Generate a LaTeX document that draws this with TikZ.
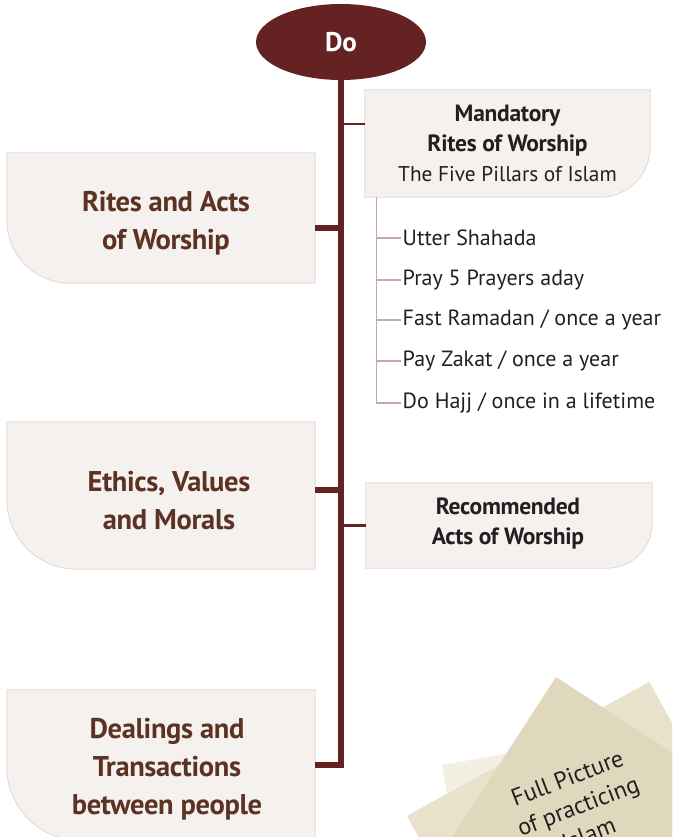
\documentclass[tikz,border=0pt]{standalone}
\usepackage{fontspec}
\setmainfont{PT Sans}
\newfontfamily\tightsf[LetterSpace=-1.2]{PT Sans}
\usetikzlibrary{shapes.geometric,backgrounds}
\definecolor{maroon}{HTML}{642322}
\definecolor{boxfill}{HTML}{F5F1EE}
\definecolor{boxline}{HTML}{E6D6D3}
\definecolor{lefttxt}{HTML}{5C3323}
\definecolor{darktxt}{HTML}{231F20}
\definecolor{listc}{HTML}{C7A9A6}
\definecolor{paperA}{HTML}{F3EFE3}
\definecolor{paperB}{HTML}{E8E1CB}
\definecolor{paperC}{HTML}{DFD8BC}
\newcommand\leftshape[2]{%
  \path[boxst] (#1.north west) -- (#1.north east) -- (#1.south east)
    -- ([xshift=#2pt]#1.south west) arc[start angle=270,end angle=180,radius=#2pt] -- cycle;}
\newcommand\rightshape[2]{%
  \path[boxst] (#1.north west) -- (#1.north east) -- ([yshift=#2pt]#1.south east)
    arc[start angle=0,end angle=-90,radius=#2pt] -- (#1.south west) -- cycle;}
\begin{document}
\begin{tikzpicture}[x=1pt,y=1pt,
  boxst/.style={fill=boxfill, draw=boxline, line width=0.8pt},
  shapebox/.style={inner sep=0pt},
  trunk/.style={draw=maroon, line width=6.5pt, line join=miter},
  branch/.style={draw=maroon, line width=2.6pt},
  listline/.style={draw=listc, line width=1.2pt},
  lefttext/.style={text=lefttxt, font=\tightsf\bfseries\fontsize{28.5}{38}\selectfont, align=center, inner sep=0pt},
  righttext/.style={text=darktxt, font=\tightsf\bfseries\fontsize{23.5}{30}\selectfont, align=center, inner sep=0pt},
  item/.style={text=darktxt, font=\fontsize{22}{24}\selectfont, anchor=west, inner xsep=1.5pt, inner ysep=0pt},
]
\useasboundingbox (0,0) rectangle (672,-837);
\clip (0,0) rectangle (672,-837);

% papers
\fill[paperA, rotate around={10:(442,-765)}] (442,-765) rectangle ++(260,-260);
\fill[paperB, rotate around={29:(407,-816)}] (407,-816) rectangle ++(277,-300);
\fill[paperC, rotate around={-33:(556,-677)}] (556,-677) rectangle ++(300,-300);
\node[rotate=21, font=\fontsize{24}{30}\selectfont, text=darktxt, align=center] (full) at (578,-806) {Full Picture\\of practicing\\Islam};

% box nodes
\node[ellipse, fill=maroon, minimum width=170pt, minimum height=76pt, inner sep=0pt,
      text=white, font=\bfseries\fontsize{27}{30}\selectfont] (do) at (341,-42) {Do};
\node[shapebox, minimum width=308pt, minimum height=130pt] (rites) at (161,-218) {};
\node[shapebox, minimum width=308pt, minimum height=147pt] (ethics) at (161,-495.5) {};
\node[shapebox, minimum width=308pt, minimum height=150pt] (deal) at (161,-765) {};
\node[shapebox, minimum width=285pt, minimum height=107pt] (mand) at (507.5,-143.5) {};
\node[shapebox, minimum width=286pt, minimum height=85pt] (rec) at (509,-525.5) {};

% texts
\node[lefttext] (ritesT) at ([yshift=-5pt,xshift=5pt]rites.center) {Rites and Acts\\of Worship};
\node[lefttext] (ethicsT) at ([yshift=-5pt,xshift=8pt]ethics.center) {Ethics, Values\\and Morals};
\node[lefttext] (dealT) at ([yshift=-4pt,xshift=6pt]deal.center) {Dealings and\\Transactions\\between people};
\node[righttext] (mandT) at (mand.center)
  {Mandatory\\Rites of Worship\\{\normalfont\mdseries\fontsize{21.3}{30}\selectfont The Five Pillars of Islam}};
\node[righttext] (recT) at ([yshift=1.5pt,xshift=-1pt]rec.center) {Recommended\\Acts of Worship};

\node[item] (i1) at (401,-238) {Utter Shahada};
\node[item] (i2) at (401,-280) {Pray 5 Prayers aday};
\node[item] (i3) at (401,-320) {Fast Ramadan / once a year};
\node[item] (i4) at (401,-361) {Pay Zakat / once a year};
\node[item] (i5) at (401,-403) {Do Hajj / once in a lifetime};

\begin{scope}[on background layer]
  \leftshape{rites}{63}
  \leftshape{ethics}{70}
  \leftshape{deal}{73}
  \rightshape{mand}{50}
  \rightshape{rec}{45}
\end{scope}

% connectors
\coordinate (rc) at ([yshift=-10pt]rites.east);
\coordinate (ec) at ([yshift=5.5pt]ethics.east);
\coordinate (mc) at ([yshift=19.5pt]mand.west);
\draw[trunk] (do.south) -- (do.south |- deal.east) -- (deal.east);
\draw[trunk] (rc) -- (rc -| do.south);
\draw[trunk] (ec) -- (ec -| do.south);
\draw[branch] (mc -| do.south) -- (mc);
\draw[branch] (rec.west -| do.south) -- (rec.west);

\coordinate (lx) at ([xshift=12pt]mand.south west);
\draw[listline] (lx) |- (i5.west);
\foreach \k in {1,2,3,4} { \draw[listline] (i\k.west) -- (i\k.west -| lx); }
\end{tikzpicture}
\end{document}
